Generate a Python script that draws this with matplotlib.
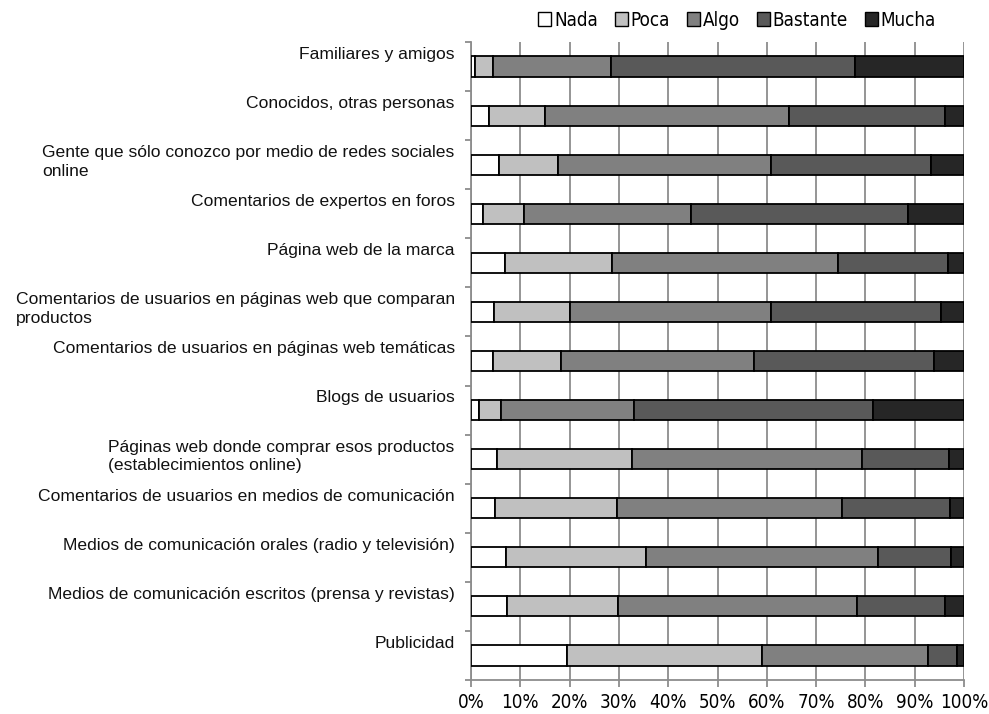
import numpy as np
import matplotlib.pyplot as plt
from matplotlib.ticker import FixedLocator, PercentFormatter
from matplotlib.patches import Patch

categories = [
    "Familiares y amigos",
    "Conocidos, otras personas",
    "Gente que sólo conozco por medio de redes sociales\nonline",
    "Comentarios de expertos en foros",
    "Página web de la marca",
    "Comentarios de usuarios en páginas web que comparan\nproductos",
    "Comentarios de usuarios en páginas web temáticas",
    "Blogs de usuarios",
    "Páginas web donde comprar esos productos\n(establecimientos online)",
    "Comentarios de usuarios en medios de comunicación",
    "Medios de comunicación orales (radio y televisión)",
    "Medios de comunicación escritos (prensa y revistas)",
    "Publicidad",
]
series = ["Nada", "Poca", "Algo", "Bastante", "Mucha"]
nada = [0.8, 3.7, 5.6, 2.4, 6.8, 4.7, 4.4, 1.6, 5.3, 4.9, 7.1, 7.4, 19.4]
poca = [3.6, 11.3, 12.1, 8.4, 21.8, 15.4, 13.8, 4.5, 27.4, 24.7, 28.3, 22.4, 39.7]
algo = [23.9, 49.5, 43.1, 33.8, 45.8, 40.7, 39.2, 26.9, 46.7, 45.6, 47.2, 48.5, 33.6]
bastante = [49.6, 31.6, 32.6, 44.1, 22.4, 34.5, 36.5, 48.5, 17.6, 21.9, 14.8, 17.8, 5.8]
mucha = [22.1, 3.9, 6.6, 11.3, 3.2, 4.7, 6.1, 18.5, 3.0, 2.9, 2.6, 3.9, 1.5]
colors = ["#ffffff", "#c0c0c0", "#808080", "#595959", "#262626"]

values = np.array([nada, poca, algo, bastante, mucha])
values = values / values.sum(axis=0) * 100

NARROW = {"family": "DejaVu Sans", "stretch": "condensed"}
LABEL_FONT = ["Liberation Sans", "DejaVu Sans"]
GRID = "#8c8c8c"

fig = plt.figure(figsize=(9.89, 7.14), dpi=100)
ax = fig.add_axes([471 / 989, 1 - 680 / 714, 493 / 989, 638 / 714])

y = np.arange(len(categories))
left = np.zeros(len(categories))
for name, vals, c in zip(series, values, colors):
    ax.barh(y, vals, left=left, height=0.41, color=c, edgecolor="black",
            linewidth=1.3, label=name, zorder=3)
    left += vals

ax.set_xlim(0, 100)
ax.set_ylim(len(categories) - 0.5, -0.5)

ax.xaxis.set_major_locator(FixedLocator(np.arange(0, 101, 10)))
ax.xaxis.set_major_formatter(PercentFormatter(decimals=0))
ax.grid(axis="x", color=GRID, linewidth=1.3, zorder=0)
ax.set_yticks(np.arange(-0.5, len(categories), 1.0))
ax.set_yticklabels([])
ax.tick_params(axis="y", length=4, color=GRID, width=1.3)
ax.tick_params(axis="x", length=5, color=GRID, width=1.3, labelsize=13.5, pad=4)
for lbl in ax.get_xticklabels():
    lbl.set_family(NARROW["family"])
    lbl.set_stretch(NARROW["stretch"])

for s in ["top", "right"]:
    ax.spines[s].set_visible(False)
for s in ["left", "bottom"]:
    ax.spines[s].set_color(GRID)
    ax.spines[s].set_linewidth(1.3)

for i, cat in enumerate(categories):
    ax.text(-3.3, i - 0.40, cat, ha="right", va="top", multialignment="left",
            fontsize=12.6, family=LABEL_FONT, color="#111111", linespacing=1.3)

handles = [Patch(facecolor=c, edgecolor="black", linewidth=1, label=n)
           for n, c in zip(series, colors)]
fig.legend(handles=handles, loc="center", bbox_to_anchor=(737 / 989, 1 - 20 / 714),
           ncol=5, frameon=False,
           prop={"family": NARROW["family"], "stretch": NARROW["stretch"], "size": 13.5},
           handlelength=0.7, handleheight=0.7, handletextpad=0.15, columnspacing=0.9)

fig.savefig("out.png", dpi=100)
